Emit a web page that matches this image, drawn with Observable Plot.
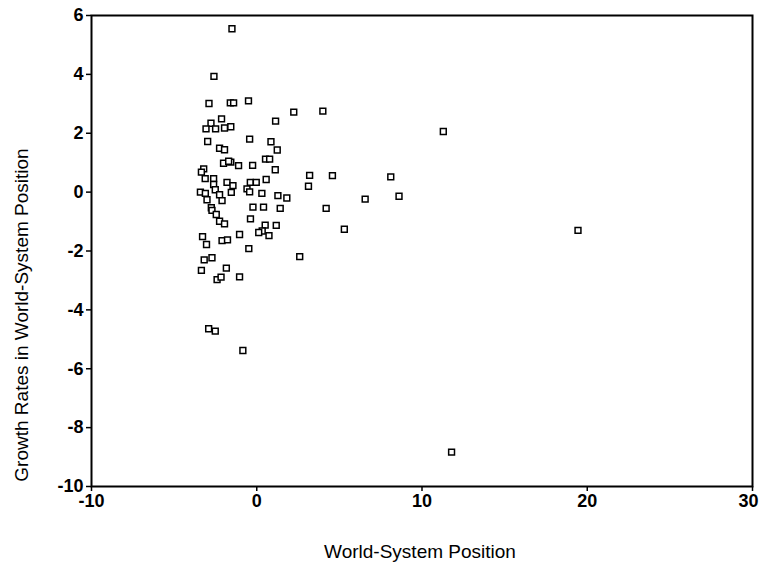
<!DOCTYPE html>
<html>
<head>
<meta charset="utf-8">
<script src="https://cdn.jsdelivr.net/npm/d3@7"></script>
<script src="https://cdn.jsdelivr.net/npm/@observablehq/plot@0.6"></script>
<style>
  html, body { margin: 0; padding: 0; background: #fff; }
  #chart svg { display: block; }
  #chart svg g[aria-label="x-axis tick label"] text,
  #chart svg g[aria-label="y-axis tick label"] text { font-weight: bold; }
</style>
</head>
<body>
<div id="chart"></div>
<script>
// World-System Position (x) and Growth Rates in World-System Position (y)
const position = [
  -1.50, -2.59, -2.89, -1.60, -1.40, -0.50, 2.24, 4.00, 11.29, -2.13,
  -2.77, -3.07, -2.49, -1.95, -1.57, 1.14, -0.43, 0.86, 1.24, -2.97,
  -2.25, -1.95, -2.01, -1.57, -1.10, -0.25, 0.53, 0.78, -3.21, -3.35,
  1.12, 3.20, 4.58, 8.11, -3.12, -2.61, -1.80, -1.44, -0.39, -0.03,
  0.57, 3.13, -2.61, -2.51, -0.59, -0.43, -3.41, -3.11, -3.01, -1.54,
  -2.25, -2.10, 0.31, 1.28, 1.82, 8.61, 6.56, -2.75, -2.71, -0.23,
  0.41, 1.42, 4.20, -2.45, -0.38, -2.25, -1.95, 0.51, 1.18, 0.33,
  0.12, 0.74, -1.04, 5.30, -3.28, -3.04, -2.10, -1.77, -0.48, 2.60,
  -3.18, -2.71, -3.35, -1.84, -2.40, -2.16, -1.04, -2.91, -2.51, -0.84,
  11.79, 19.44, -1.70
];
const growth = [
  5.55, 3.93, 3.01, 3.03, 3.03, 3.10, 2.72, 2.75, 2.06, 2.49,
  2.34, 2.15, 2.15, 2.18, 2.22, 2.41, 1.80, 1.71, 1.43, 1.72,
  1.49, 1.44, 0.98, 1.02, 0.90, 0.91, 1.12, 1.12, 0.79, 0.68,
  0.76, 0.57, 0.56, 0.52, 0.46, 0.46, 0.33, 0.22, 0.33, 0.33,
  0.43, 0.20, 0.26, 0.08, 0.11, 0.01, 0.00, -0.04, -0.26, -0.01,
  -0.09, -0.29, -0.04, -0.12, -0.20, -0.14, -0.24, -0.53, -0.62, -0.51,
  -0.51, -0.55, -0.55, -0.76, -0.91, -0.99, -1.08, -1.12, -1.13, -1.32,
  -1.37, -1.48, -1.44, -1.26, -1.51, -1.78, -1.65, -1.62, -1.92, -2.19,
  -2.30, -2.23, -2.66, -2.58, -2.97, -2.89, -2.88, -4.64, -4.72, -5.38,
  -8.83, -1.30, 1.05
];
const xTicks = [-10, 0, 10, 20, 30];
const yTicks = [-10, -8, -6, -4, -2, 0, 2, 4, 6];
const xTitle = "World-System Position";
const yTitle = "Growth Rates in World-System Position";

const data = position.map((x, i) => ({x, y: growth[i]}));
const xTicksInner = xTicks.slice(0, -1);
const xTickLast = xTicks.slice(-1);

const W = 759, H = 568;
const chart = Plot.plot({
  width: W,
  height: H,
  marginLeft: 91,
  marginRight: 7,
  marginTop: 15,
  marginBottom: 82,
  style: {fontFamily: "'Liberation Sans', Arial, sans-serif", fontSize: "18px", color: "#000", background: "#fff"},
  x: {domain: [-10, 30], label: null},
  y: {domain: [-10, 6], label: null},
  marks: [
    Plot.axisX({ticks: xTicks, tickSize: 5, text: null, label: null, strokeWidth: 1.5}),
    Plot.axisX({ticks: xTicksInner, tickSize: 0, tickPadding: 8, tickFormat: d => d, label: null}),
    Plot.axisX({ticks: xTickLast, tickSize: 0, tickPadding: 8, tickFormat: d => d, label: null, dx: -4}),
    Plot.axisY({ticks: yTicks, tickSize: 5, tickPadding: 3, tickFormat: d => d, label: null, strokeWidth: 1.5}),
    Plot.frame({stroke: "#000", strokeWidth: 2}),
    Plot.dot(data, {x: "x", y: "y", symbol: "square", r: 3.3, stroke: "#000", fill: "#fff", strokeWidth: 1.5})
  ]
});

const svg = d3.select(chart);
svg.append("text")
  .attr("x", 420).attr("y", 558)
  .attr("text-anchor", "middle")
  .attr("font-size", 19)
  .attr("fill", "#000")
  .text(xTitle);
svg.append("text")
  .attr("transform", "translate(28,315) rotate(-90)")
  .attr("text-anchor", "middle")
  .attr("font-size", 19)
  .attr("fill", "#000")
  .text(yTitle);

document.getElementById("chart").appendChild(chart);
</script>
</body>
</html>
